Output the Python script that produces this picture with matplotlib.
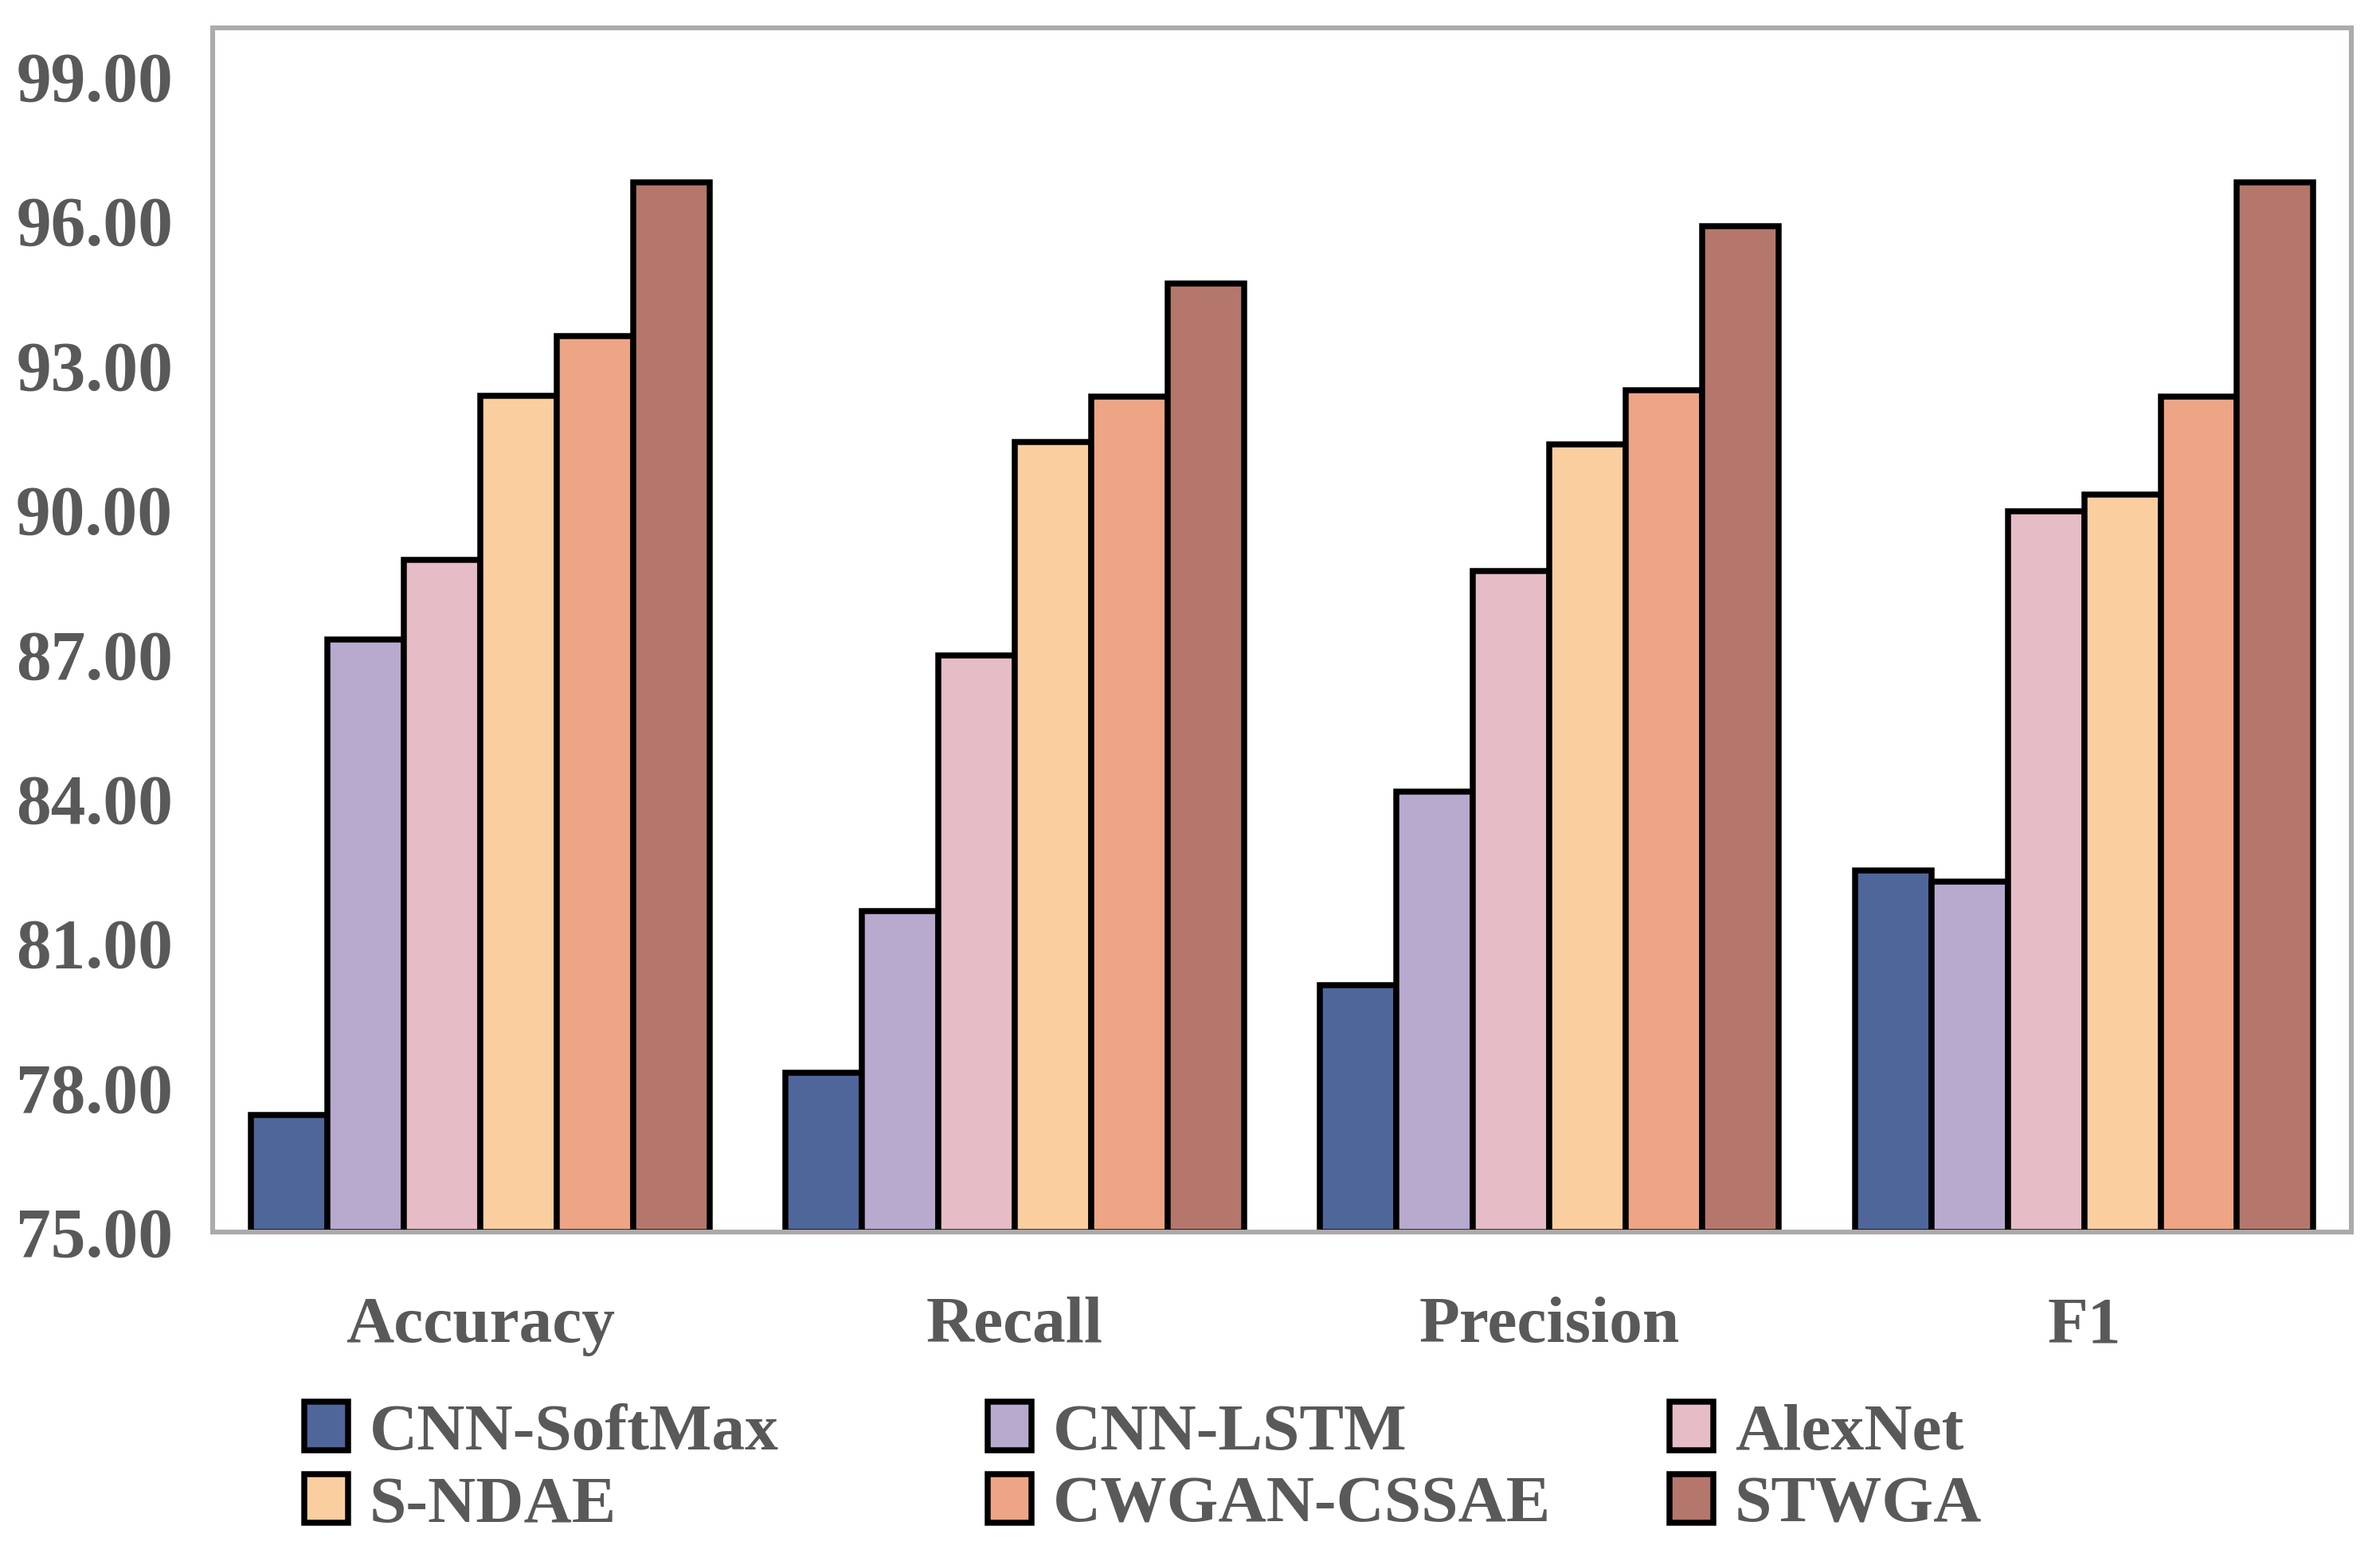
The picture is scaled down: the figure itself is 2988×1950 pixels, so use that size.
import matplotlib.pyplot as plt
import numpy as np
from matplotlib.patches import Patch

metrics = ["Accuracy", "Recall", "Precision", "F1"]
models = ["CNN-SoftMax", "CNN-LSTM", "AlexNet", "S-NDAE", "CWGAN-CSSAE", "STWGA"]

cnn_softmax = [77.43, 78.31, 80.12, 82.50]
cnn_lstm = [87.31, 81.66, 84.14, 82.27]
alexnet = [88.95, 86.97, 88.73, 89.96]
s_ndae = [92.36, 91.40, 91.36, 90.31]
cwgan_cssae = [93.61, 92.34, 92.47, 92.34]
stwga = [96.80, 94.69, 95.89, 96.80]

colors = ["#4F669B", "#B8A9CE", "#E6BCC6", "#FBCEA0", "#EEA585", "#B5776C"]

series = [cnn_softmax, cnn_lstm, alexnet, s_ndae, cwgan_cssae, stwga]

plt.rcParams["font.family"] = ["Liberation Serif", "DejaVu Serif"]
plt.rcParams["font.weight"] = "bold"
text_color = "#595959"
spine_color = "#AEAAAA"

fig = plt.figure(figsize=(9.96, 6.5), dpi=300)
ax = fig.add_axes([0.0894, 0.2067, 0.8986, 0.7753])

x = np.arange(len(metrics))
width = 0.143
n = len(models)

for j, (name, vals) in enumerate(zip(models, series)):
    ax.bar(
        x + (j - (n - 1) / 2) * width,
        np.array(vals) - 75,
        bottom=75,
        width=width,
        color=colors[j],
        edgecolor="black",
        linewidth=1.8,
        label=name,
    )

ax.set_xlim(-0.5, len(metrics) - 0.5)
ax.set_ylim(75, 100)
ax.set_yticks(np.arange(75, 100, 3))
ax.set_yticklabels([f"{v:.2f}" for v in np.arange(75, 100, 3)])
ax.set_xticks(x)
ax.set_xticklabels(metrics)
ax.tick_params(axis="y", length=0, pad=12, labelsize=21, labelcolor=text_color)
ax.tick_params(axis="x", length=0, pad=19.5, labelsize=20, labelcolor=text_color)

for side in ["left", "right", "top", "bottom"]:
    ax.spines[side].set_color(spine_color)
    ax.spines[side].set_linewidth(1.45)

# Excel-like legend: three equal-width columns, two rows
col_x = [0.1278, 0.415, 0.7015]
for k in range(3):
    handles = [
        Patch(facecolor=colors[k], edgecolor="black", linewidth=1.8),
        Patch(facecolor=colors[k + 3], edgecolor="black", linewidth=1.8),
    ]
    labels = [models[k], models[k + 3]]
    leg = fig.legend(
        handles,
        labels,
        loc="center left",
        bbox_to_anchor=(col_x[k], 0.054),
        frameon=False,
        fontsize=20,
        handlelength=0.66,
        handleheight=0.75,
        handletextpad=0.32,
        labelspacing=0.16,
        borderpad=0,
        borderaxespad=0,
    )
    for t in leg.get_texts():
        t.set_color(text_color)

fig.savefig("out.png", dpi=300)
